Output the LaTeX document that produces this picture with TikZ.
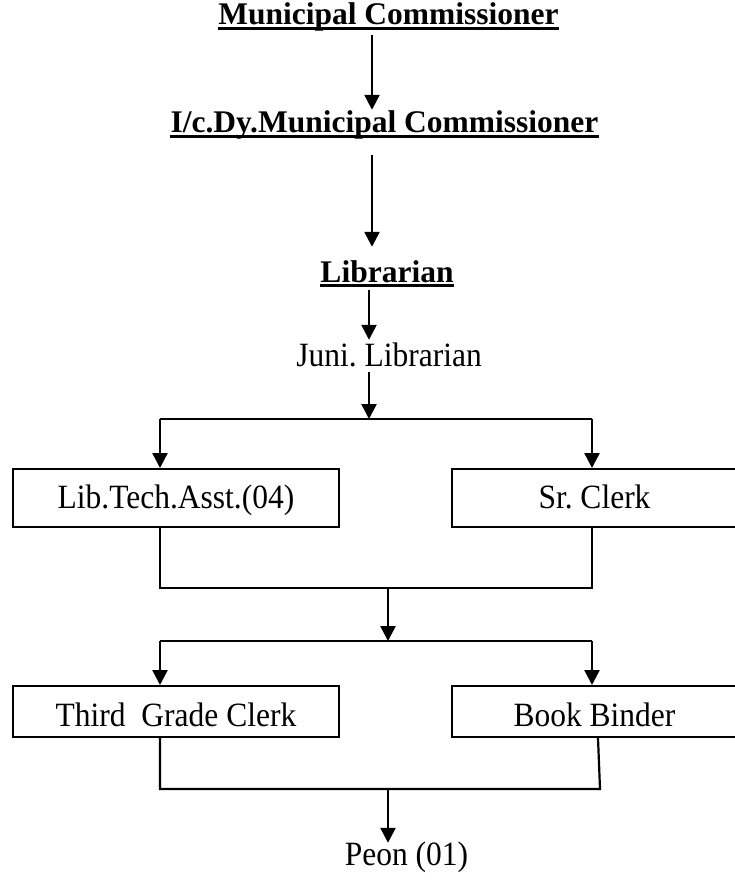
\documentclass[tikz,border=0pt]{standalone}
\usepackage{fontspec}
\usepackage{graphicx}
\setmainfont{Liberation Serif}
\usetikzlibrary{arrows.meta}
\frenchspacing
\newcommand{\tallt}[1]{\scalebox{1}[1.08]{#1}}
\begin{document}
\begin{tikzpicture}[x=1pt,y=-1pt,
  every node/.style={inner sep=0pt, font=\fontsize{31.5}{36}\selectfont},
  title/.style={font=\fontsize{31.5}{36}\selectfont\bfseries, text height=20pt, text depth=6pt, anchor=base},
  plain/.style={text height=20pt, text depth=6pt, anchor=base},
  box/.style={draw, line width=2pt, minimum width=326pt, minimum height=58pt, text height=20pt, text depth=0pt},
  lowbox/.style={box, minimum height=51pt, text height=29pt},
  arr/.style={line width=2.5pt, -{Triangle[width=15pt,length=15pt]}},
  conn/.style={line width=2.2pt},
  ul/.style={line width=3pt}]
\useasboundingbox (0,0) rectangle (734,882);

% titles
\node[title] (mc) at (388.5,25) {Municipal Commissioner};
\node[title] (dmc) at (384.5,133) {I/c.Dy.Municipal Commissioner};
\node[title] (lib) at (387,282) {Librarian};
\node[plain] (juni) at (389,366) {\tallt{Juni. Librarian}};
\foreach \n in {mc,dmc,lib}
  \draw[ul] ([yshift=-3.5pt]\n.base west) -- ([yshift=-3.5pt]\n.base east);

% top arrows
\draw[arr] ([xshift=-16.5pt,yshift=-4pt]mc.south) -- ([xshift=-12.5pt,yshift=3pt]dmc.north);
\draw[arr] ([xshift=-12.5pt,yshift=-16pt]dmc.south) -- ([xshift=-15pt,yshift=15pt]lib.north);
\draw[arr] ([xshift=-18pt,yshift=-2pt]lib.south) -- ([xshift=-20pt,yshift=6pt]juni.north);
\coordinate (j1) at (369,419);
\draw[arr] ([xshift=-20pt]juni.south) -- (j1);

% first level boxes
\node[box] (lta) at (176,498) {\tallt{Lib.Tech.Asst.(04)}};
\node[box, minimum width=285pt] (src) at (594.5,498) {\tallt{Sr. Clerk}};
\coordinate (lx) at ([xshift=-16pt]lta.north);
\coordinate (lxb) at ([xshift=-16pt]lta.south);
\coordinate (rx) at ([xshift=-2.5pt]src.north);
\coordinate (rxb) at ([xshift=-2.5pt]src.south);
\draw[conn] (lx |- j1) -- (rx |- j1);
\draw[arr] (lx |- j1) -- (lx);
\draw[arr] (rx |- j1) -- (rx);

% join
\coordinate (j2) at (388,588);
\coordinate (j3) at (388,641);
\draw[conn] (lxb) -- (lxb |- j2) -- (rxb |- j2) -- (rxb);
\draw[arr] (j2) -- (j3);

% second level boxes
\node[lowbox] (tgc) at (176,711.5) {\tallt{Third~~Grade Clerk}};
\node[lowbox, minimum width=285pt] (bb) at (594.5,711.5) {\tallt{Book Binder}};
\coordinate (tx) at ([xshift=-16pt]tgc.north);
\coordinate (txb) at ([xshift=-16pt]tgc.south);
\coordinate (bx) at ([xshift=-2.5pt]bb.north);
\coordinate (bxb) at ([xshift=3.5pt]bb.south);
\draw[conn] (tx |- j3) -- (bx |- j3);
\draw[arr] (tx |- j3) -- (tx);
\draw[arr] (bx |- j3) -- (bx);

\coordinate (j4) at (388,789);
\draw[conn] (txb) -- (txb |- j4) -- ([xshift=2pt]bxb |- j4) -- (bxb);

\node[plain] (peon) at (406.5,865) {\tallt{Peon (01)}};
\draw[arr] (j4) -- ([xshift=-18.5pt,yshift=2pt]peon.north);
\end{tikzpicture}
\end{document}
